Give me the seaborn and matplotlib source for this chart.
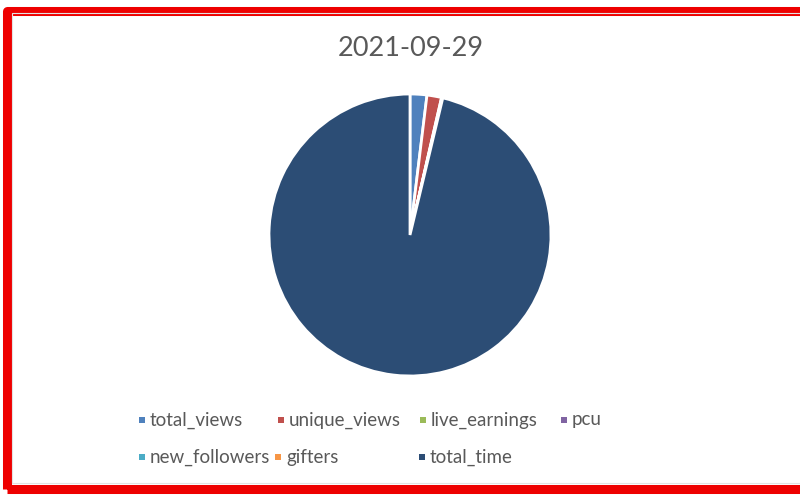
import matplotlib
matplotlib.use("Agg")
import matplotlib.pyplot as plt
import seaborn as sns
from matplotlib.patches import Rectangle

title = "2021-09-29"
labels = ["total_views", "unique_views", "live_earnings", "pcu",
          "new_followers", "gifters", "total_time"]
values = [1500, 1300, 60, 30, 20, 5, 75000]
colors = ["#4F81BD", "#C0504D", "#9BBB59", "#8064A2",
          "#4BACC6", "#F79646", "#2C4D75"]

sns.set_theme(style="white")
plt.rcParams["font.family"] = ["Lato", "DejaVu Sans"]

W, H = 800, 496
fig = plt.figure(figsize=(8, 4.96), dpi=100)
fig.patch.set_facecolor("white")

# red frame
fig.patches.append(Rectangle((7 / W, 7 / H), (W + 20) / W, (H - 14 - 4) / H,
                             transform=fig.transFigure, fill=False,
                             edgecolor="#EE0000", linewidth=6.5,
                             joinstyle="round"))
fig.patches.append(Rectangle((12 / W, 13 / H), (W) / W, (H - 26) / H,
                             transform=fig.transFigure, fill=False,
                             edgecolor="#E2E2E2", linewidth=0.8))

cx, cy, r = 410, 235, 141
ax = fig.add_axes([(cx - r) / W, 1 - (cy + r) / H, 2 * r / W, 2 * r / H])
ax.pie(values, colors=colors, startangle=90, counterclock=False,
       wedgeprops=dict(edgecolor="white", linewidth=2))
ax.set_xlim(-1, 1)
ax.set_ylim(-1, 1)
ax.set_aspect("equal")
ax.axis("off")

fig.text(411 / W, 1 - 48 / H, title, ha="center", va="center",
         fontsize=19.5, color="#595959")

# legend (flow layout like the original): text start x, row y
pos = [(150, 420), (289, 420), (431, 420), (572, 420),
       (150, 457), (286, 457), (430, 457)]
for (x, y), lab, col in zip(pos, labels, colors):
    fig.patches.append(Rectangle(((x - 11) / W, 1 - (y + 3) / H), 6 / W, 6 / H,
                                 transform=fig.transFigure, facecolor=col,
                                 edgecolor="none"))
    fig.text(x / W, 1 - y / H, lab, ha="left", va="center",
             fontsize=13.5, color="#595959")

fig.savefig("out.png", dpi=100)
